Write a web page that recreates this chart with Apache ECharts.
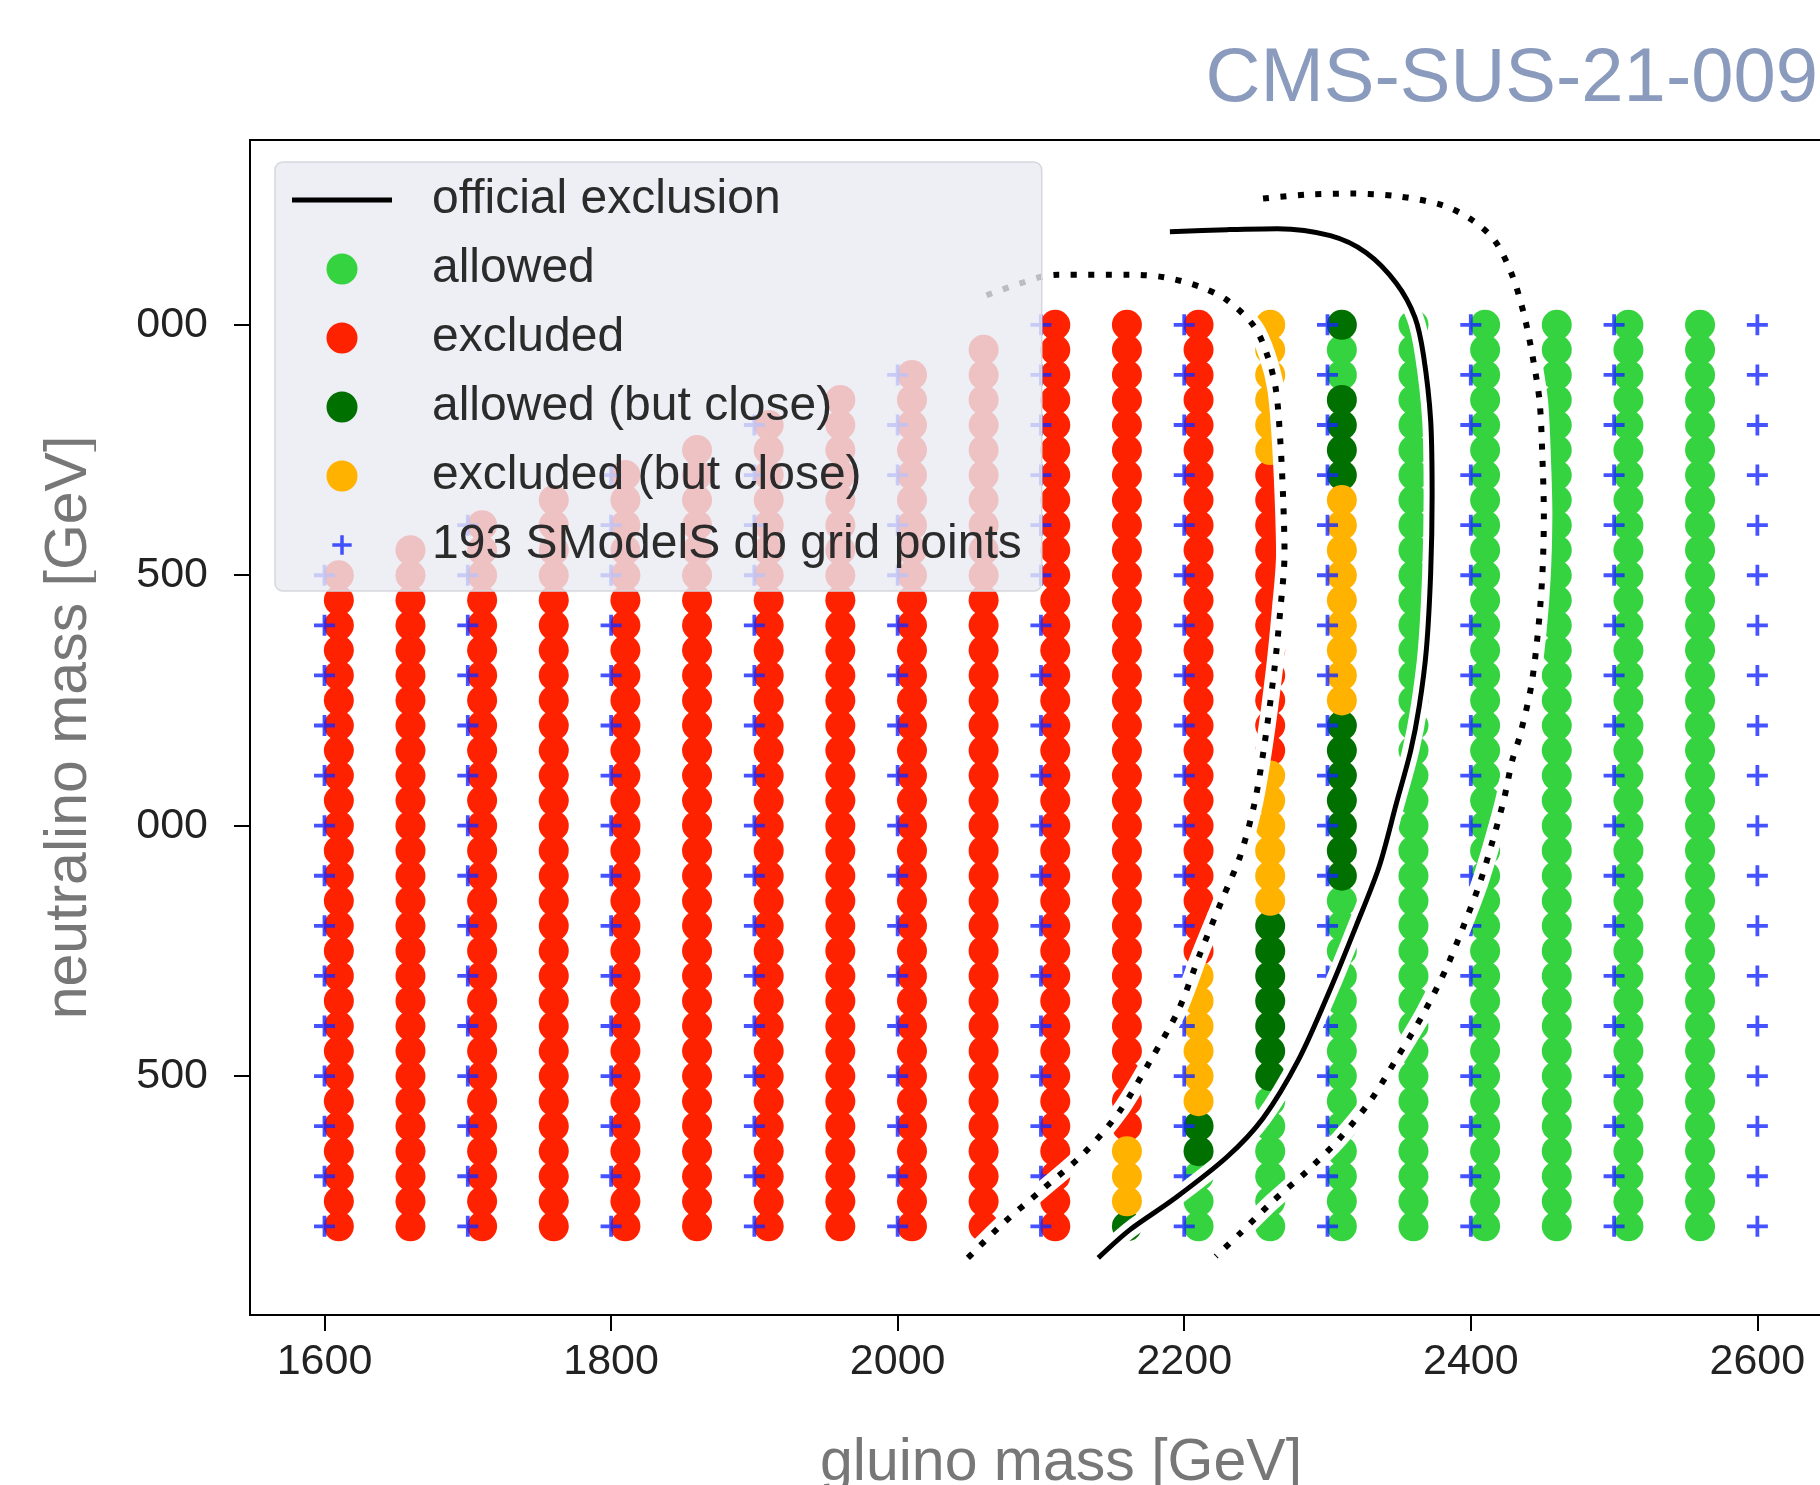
<!DOCTYPE html>
<html>
<head>
<meta charset="utf-8">
<title>CMS-SUS-21-009</title>
<script src="https://cdn.jsdelivr.net/npm/echarts@6/dist/echarts.min.js"></script>
<style>
  html, body { margin: 0; padding: 0; background: #fff; }
  #chart { width: 1820px; height: 1485px; }
</style>
</head>
<body>
<div id="chart"></div>
<script>
// SModelS database grid: gluino mass columns, top neutralino mass per column
const gridColumns = [1600, 1700, 1800, 1900, 2000, 2100, 2200, 2300, 2400, 2500, 2600];
const gridTops = [1500, 1600, 1700, 1800, 1900, 2000, 2000, 2000, 2000, 2000, 2000];
const gridBottom = 200;
const gridStep = 100;

// result points, as runs [gluino mass, lowest neutralino, highest neutralino]
const dotStep = 50;
const allowedRuns = [
  [2210, 200, 300], [2260, 200, 450], [2310, 200, 850], [2310, 1900, 1950],
  [2360, 200, 2000], [2410, 200, 2000], [2460, 200, 2000], [2510, 200, 2000], [2560, 200, 2000]
];
const excludedRuns = [
  [1610, 200, 1500], [1660, 200, 1550], [1710, 200, 1600], [1760, 200, 1650],
  [1810, 200, 1700], [1860, 200, 1750], [1910, 200, 1800], [1960, 200, 1850],
  [2010, 200, 1900], [2060, 200, 1950], [2110, 200, 2000], [2160, 400, 2000],
  [2210, 750, 2000], [2260, 1150, 1700]
];
const closeAllowedRuns = [
  [2160, 200, 200], [2210, 350, 400], [2260, 500, 800],
  [2310, 900, 1200], [2310, 1700, 1850], [2310, 2000, 2000]
];
const closeExcludedRuns = [
  [2160, 250, 350], [2210, 450, 700], [2260, 850, 1100], [2260, 1750, 2000], [2310, 1250, 1650]
];

// exclusion contours [gluino, neutralino]
const officialExclusion = [
  [2190, 2186], [2230, 2190], [2265, 2192], [2302, 2178], [2327, 2144], [2348, 2083], [2361, 2015],
  [2367, 1939], [2372, 1809], [2373, 1658], [2372, 1505], [2369, 1352], [2364, 1238],
  [2358, 1149], [2348, 1044], [2336, 918], [2320, 800], [2302, 674], [2280, 534],
  [2255, 416], [2230, 339], [2193, 255], [2162, 193], [2140, 137]
];
const innerDotted = [
  [2062, 2059], [2099, 2095], [2112, 2100], [2162, 2100], [2186, 2095], [2211, 2076],
  [2230, 2049], [2249, 1996], [2258, 1939], [2264, 1870], [2267, 1771], [2269, 1657],
  [2270, 1543], [2267, 1429], [2263, 1314], [2256, 1162], [2249, 1044], [2239, 939],
  [2227, 856], [2211, 744], [2196, 632], [2177, 534], [2155, 430], [2130, 346],
  [2099, 269], [2074, 207], [2049, 137]
];
const outerDotted = [
  [2255, 2252], [2286, 2260], [2317, 2262], [2348, 2257], [2380, 2239], [2401, 2209],
  [2417, 2167], [2429, 2098], [2437, 2022], [2443, 1939], [2448, 1847], [2450, 1733],
  [2451, 1619], [2450, 1505], [2447, 1390], [2442, 1276], [2434, 1177], [2429, 1131],
  [2423, 1051], [2415, 967], [2406, 883], [2395, 800], [2383, 716], [2367, 625],
  [2348, 534], [2330, 451], [2308, 374], [2286, 311], [2261, 248], [2239, 186], [2222, 140]
];

const xTicks = [1600, 1800, 2000, 2200, 2400, 2600];
const yTicks = [500, 1000, 1500, 2000];

const FONT = "'Liberation Sans', Arial, sans-serif";
const PLUS = 'path://M8.2 0L11.8 0L11.8 8.2L20 8.2L20 11.8L11.8 11.8L11.8 20L8.2 20L8.2 11.8L0 11.8L0 8.2L8.2 8.2Z';
// same plus with empty margin so the legend icon stays small
const PLUS_LEGEND = 'path://M-6 -6ZM26 26ZM8.2 0L11.8 0L11.8 8.2L20 8.2L20 11.8L11.8 11.8L11.8 20L8.2 20L8.2 11.8L0 11.8L0 8.2L8.2 8.2Z';

const expandRuns = (runs) => {
  const pts = [];
  runs.forEach(([x, lo, hi]) => {
    for (let y = lo; y <= hi; y += dotStep) pts.push([x, y]);
  });
  return pts;
};

const gridPoints = [];
gridColumns.forEach((x, i) => {
  for (let y = gridBottom; y <= gridTops[i]; y += gridStep) gridPoints.push([x, y]);
});

const dotSeries = (name, runs, color) => ({
  name: name,
  type: 'scatter',
  symbol: 'circle',
  symbolSize: 30,
  itemStyle: { color: color, opacity: 1 },
  data: expandRuns(runs)
});

const curve = (name, data, style) => ({
  name: name,
  type: 'line',
  data: data,
  symbol: 'none',
  showSymbol: false,
  smooth: 0.3,
  itemStyle: { color: style.color },
  lineStyle: style
});

const chart = echarts.init(document.getElementById('chart'), null, { renderer: 'canvas' });

const option = {
  animation: false,
  backgroundColor: '#ffffff',
  title: {
    text: 'CMS-SUS-21-009',
    right: 2,
    top: 42,
    padding: 0,
    textStyle: { fontFamily: FONT, fontSize: 76, fontWeight: 'normal', color: '#8a9bbd' }
  },
  grid: {
    left: 250,
    top: 140,
    width: 1622,
    height: 1175,
    show: true,
    backgroundColor: '#ffffff',
    borderColor: '#000000',
    borderWidth: 2,
    containLabel: false,
    outerBoundsMode: 'none'
  },
  legend: {
    orient: 'vertical',
    left: 275,
    top: 162,
    padding: [14, 20, 22, 17],
    itemWidth: 100,
    itemHeight: 31,
    itemGap: 21,
    selectedMode: false,
    backgroundColor: 'rgba(234,234,242,0.8)',
    borderColor: '#d6d6de',
    borderWidth: 1.5,
    borderRadius: 8,
    textStyle: {
      fontFamily: FONT, fontSize: 48, lineHeight: 48, color: '#2b2b2b',
      padding: [0, 0, 0, 35]
    },
    data: [
      { name: 'official exclusion', icon: 'path://M0 0L100 0L100 5L0 5Z' },
      'allowed',
      'excluded',
      'allowed (but close)',
      'excluded (but close)',
      { name: '193 SModelS db grid points', icon: PLUS_LEGEND }
    ]
  },
  xAxis: {
    type: 'value',
    min: 1548,
    max: 2680,
    name: 'gluino mass [GeV]',
    nameLocation: 'middle',
    nameGap: 119,
    nameMoveOverlap: false,
    nameTextStyle: { fontFamily: FONT, fontSize: 59, color: '#777777' },
    axisLine: { show: false },
    axisTick: {
      show: true, length: 16, customValues: xTicks,
      lineStyle: { color: '#000000', width: 2 }
    },
    axisLabel: {
      customValues: xTicks, margin: 26,
      formatter: (v) => String(v),
      fontFamily: FONT, fontSize: 43, color: '#222222'
    },
    splitLine: { show: false }
  },
  yAxis: {
    type: 'value',
    min: 23,
    max: 2369,
    name: 'neutralino mass [GeV]',
    nameLocation: 'middle',
    nameGap: 151,
    nameMoveOverlap: false,
    nameTextStyle: { fontFamily: FONT, fontSize: 59, color: '#777777' },
    axisLine: { show: false },
    axisTick: {
      show: true, length: 16, customValues: yTicks,
      lineStyle: { color: '#000000', width: 2 }
    },
    axisLabel: {
      customValues: yTicks, margin: 42,
      formatter: (v) => String(v),
      fontFamily: FONT, fontSize: 43, color: '#222222'
    },
    splitLine: { show: false }
  },
  // the source picture clips the first digit of the upper y tick labels
  graphic: [{
    type: 'rect',
    left: 96,
    top: 280,
    z: 100,
    shape: { width: 39, height: 580 },
    style: { fill: '#ffffff' }
  }],
  series: [
    dotSeries('allowed', allowedRuns, '#35d340'),
    dotSeries('excluded', excludedRuns, '#ff2200'),
    dotSeries('allowed (but close)', closeAllowedRuns, '#007000'),
    dotSeries('excluded (but close)', closeExcludedRuns, '#ffb200'),
    curve('halo inner', innerDotted, { color: '#ffffff', width: 17 }),
    curve('halo outer', outerDotted, { color: '#ffffff', width: 17 }),
    curve('halo official', officialExclusion, { color: '#ffffff', width: 17 }),
    curve('inner band', innerDotted, { color: '#000000', width: 6, type: [6, 11.5] }),
    curve('outer band', outerDotted, { color: '#000000', width: 6, type: [6, 11.5] }),
    curve('official exclusion', officialExclusion, { color: '#000000', width: 5 }),
    {
      name: '193 SModelS db grid points',
      type: 'scatter',
      symbol: PLUS,
      symbolSize: 21,
      itemStyle: { color: '#1528ff' },
      data: gridPoints
    }
  ]
};

chart.setOption(option);
</script>
</body>
</html>
